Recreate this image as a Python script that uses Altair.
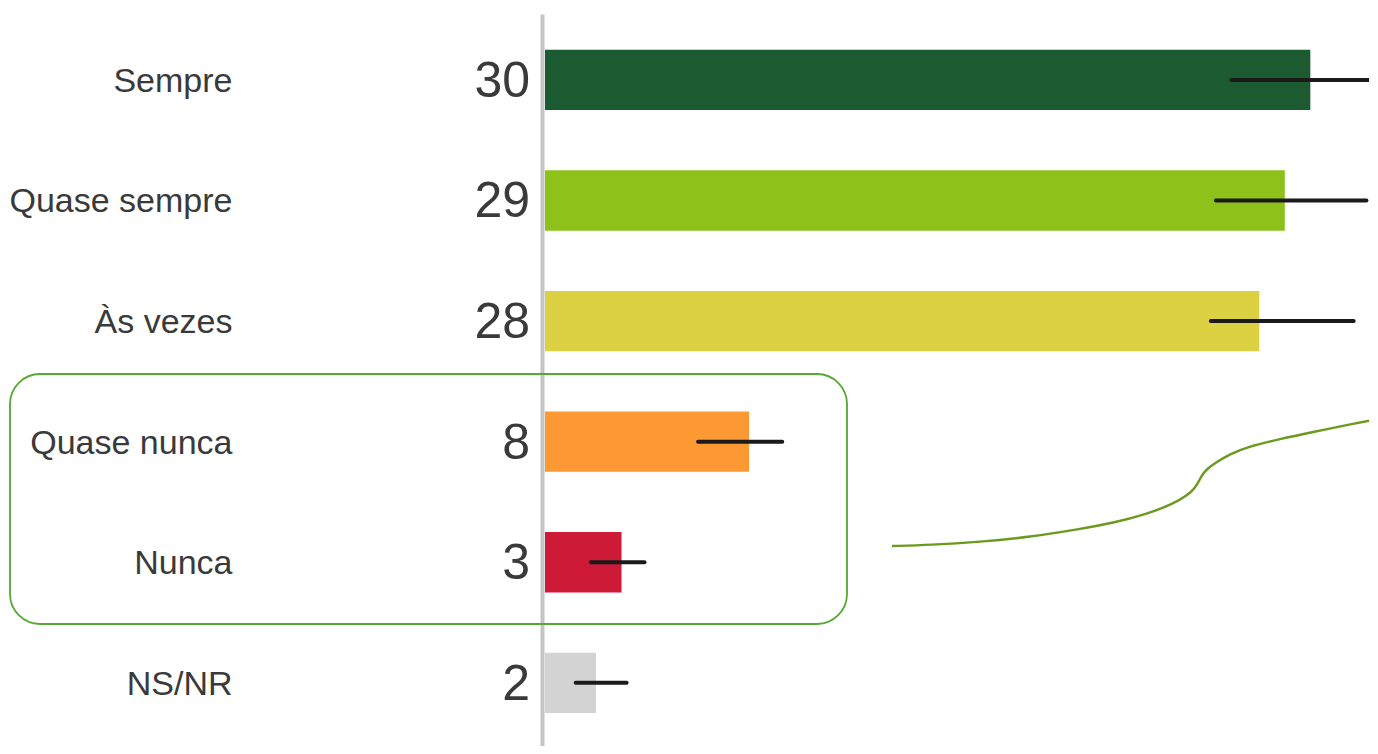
import altair as alt
import pandas as pd

categories = ["Sempre", "Quase sempre", "Às vezes", "Quase nunca", "Nunca", "NS/NR"]
values = [30, 29, 28, 8, 3, 2]
err_low = [26.9, 26.3, 26.1, 6.0, 1.8, 1.2]
err_high = [33.1, 32.2, 31.7, 9.3, 3.9, 3.2]
colors = ["#1c5a32", "#8ec21b", "#dcd043", "#fd9933", "#cd1a37", "#d3d3d3"]

# annotation connector path (plot pixel coordinates)
curve_x = [347, 385, 435, 485, 535, 568, 602, 628, 643, 650, 654, 657, 662, 670, 685, 702, 735, 768, 802, 833]
curve_y = [532, 531, 528, 523, 515, 509, 500, 490, 481, 474, 467, 461, 455, 449, 440, 433, 425, 418, 411, 405]

W, H = 824, 732
FONT = "Liberation Sans"
TEXT = "#3a3a3a"

df = pd.DataFrame({"cat": categories, "value": values, "lo": err_low, "hi": err_high})
curve = pd.DataFrame({"px": curve_x, "py": curve_y, "order": list(range(len(curve_x)))})

yenc = alt.Y(
    "cat:N",
    sort=categories,
    scale=alt.Scale(paddingInner=0.5, paddingOuter=0.285, align=0.52),
    axis=alt.Axis(
        title=None, ticks=False, grid=False, offset=3, labelPadding=310,
        labelFontSize=34, labelColor=TEXT, labelFont=FONT, labelAlign="right",
        labelLimit=0, labelOffset=2, domainColor="#c4c4c4", domainWidth=4,
    ),
)
xscale = alt.Scale(domain=[0, 32.3], nice=False, zero=True)

bars = alt.Chart(df).mark_bar().encode(
    x=alt.X("value:Q", scale=xscale, axis=None),
    y=yenc,
    color=alt.Color("cat:N", scale=alt.Scale(domain=categories, range=colors), legend=None),
)

nums = alt.Chart(df).mark_text(
    align="right", baseline="middle", fontSize=50, font=FONT, color=TEXT, dy=2
).encode(
    x=alt.value(-15),
    y=alt.Y("cat:N", sort=categories),
    text=alt.Text("value:Q"),
)

errs = alt.Chart(df).mark_rule(strokeWidth=4, strokeCap="round", color="#1a1a1a").encode(
    x=alt.X("lo:Q", scale=xscale),
    x2="hi:Q",
    y=alt.Y("cat:N", sort=categories),
)

box = alt.Chart(df).mark_rect(
    fill="transparent", stroke="#55a832", strokeWidth=1.8, cornerRadius=30
).encode(
    x=alt.value(-535), x2=alt.value(302), y=alt.value(360), y2=alt.value(610)
).transform_filter(alt.datum.cat == "Sempre")

conn = alt.Chart(curve).mark_line(
    color="#6b9a1e", strokeWidth=2.4, interpolate="basis"
).encode(
    x=alt.X("px:Q", scale=alt.Scale(domain=[0, W], nice=False, zero=False), axis=None),
    y=alt.Y("py:Q", scale=alt.Scale(domain=[0, H], nice=False, reverse=True, zero=False), axis=None),
    order="order:Q",
)

main = alt.layer(bars, errs, nums, box)
chart = alt.layer(main, conn).resolve_scale(x="independent", y="independent").properties(
    width=W, height=H,
    autosize=alt.AutoSizeParams(type="none"),
    padding={"left": 537, "top": 6, "right": 0, "bottom": 0},
).configure_view(stroke=None)

chart.save("out.html", embed_options={"renderer": "svg", "actions": False})
